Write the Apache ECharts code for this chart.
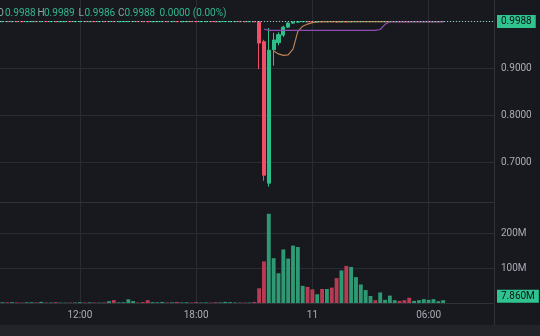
<!DOCTYPE html>
<html><head><meta charset="utf-8">
<script src="https://cdn.jsdelivr.net/npm/echarts@6/dist/echarts.min.js"></script>
<style>html,body{margin:0;padding:0;background:#18191f;}#c{width:540px;height:336px;}</style>
</head><body><div id="c"></div>
<script>
// 15-minute candles, [open, close, low, high]
const ohlc = [
[0.9987,0.9988,0.9985,0.9989],[0.9988,0.9987,0.9985,0.9989],[0.9987,0.9988,0.9986,0.9989],[0.9988,0.9987,0.9986,0.9989],[0.9987,0.9986,0.9985,0.9988],
[0.9986,0.9988,0.9985,0.9989],[0.9987,0.9988,0.9986,0.9990],[0.9988,0.9987,0.9986,0.9989],[0.9987,0.9989,0.9986,0.9990],[0.9989,0.9987,0.9986,0.9989],
[0.9987,0.9988,0.9986,0.9989],[0.9988,0.9986,0.9985,0.9989],[0.9986,0.9988,0.9985,0.9989],[0.9987,0.9988,0.9986,0.9989],[0.9988,0.9987,0.9986,0.9989],
[0.9987,0.9988,0.9986,0.9989],[0.9987,0.9989,0.9986,0.9990],[0.9989,0.9987,0.9986,0.9989],[0.9987,0.9988,0.9986,0.9989],[0.9988,0.9987,0.9986,0.9989],
[0.9987,0.9988,0.9986,0.9989],[0.9988,0.9987,0.9985,0.9989],[0.9987,0.9989,0.9985,0.9990],[0.9989,0.9986,0.9984,0.9990],[0.9986,0.9988,0.9985,0.9989],
[0.9987,0.9988,0.9986,0.9989],[0.9987,0.9990,0.9985,0.9991],[0.9988,0.9989,0.9986,0.9990],[0.9989,0.9988,0.9986,0.9990],[0.9988,0.9987,0.9985,0.9989],
[0.9987,0.9985,0.9983,0.9988],[0.9985,0.9987,0.9984,0.9988],[0.9986,0.9988,0.9985,0.9989],[0.9987,0.9988,0.9986,0.9990],[0.9988,0.9987,0.9986,0.9989],
[0.9987,0.9988,0.9986,0.9989],[0.9988,0.9986,0.9985,0.9989],[0.9986,0.9987,0.9985,0.9988],[0.9987,0.9988,0.9986,0.9989],[0.9988,0.9987,0.9986,0.9989],
[0.9987,0.9986,0.9985,0.9988],[0.9986,0.9988,0.9985,0.9989],[0.9987,0.9988,0.9986,0.9989],[0.9988,0.9987,0.9986,0.9989],[0.9987,0.9986,0.9985,0.9988],
[0.9986,0.9987,0.9985,0.9988],[0.9987,0.9988,0.9986,0.9990],[0.9987,0.9988,0.9986,0.9989],[0.9987,0.9988,0.9986,0.9989],[0.9988,0.9987,0.9986,0.9989],
[0.9987,0.9986,0.9985,0.9988],[0.9986,0.9988,0.9985,0.9989],[0.9988,0.9984,0.9979,0.9989],[0.9986,0.9530,0.8975,0.9990],[0.9560,0.6720,0.6600,0.9600],
[0.6550,0.9380,0.6475,0.9850],[0.9390,0.9596,0.9050,0.9750],[0.9540,0.9710,0.9480,0.9760],[0.9700,0.9870,0.9660,0.9900],[0.9870,0.9955,0.9850,0.9975],
[0.9955,0.9978,0.9940,0.9990],[0.9976,0.9985,0.9965,0.9992],[0.9984,0.9988,0.9978,0.9992],[0.9988,0.9984,0.9976,0.9991],[0.9985,0.9982,0.9974,0.9990],
[0.9982,0.9987,0.9978,0.9991],[0.9987,0.9983,0.9975,0.9990],[0.9983,0.9988,0.9979,0.9992],[0.9988,0.9984,0.9977,0.9991],[0.9985,0.9981,0.9972,0.9990],
[0.9981,0.9987,0.9976,0.9993],[0.9987,0.9982,0.9973,0.9991],[0.9982,0.9988,0.9977,0.9993],[0.9986,0.9989,0.9980,0.9993],[0.9986,0.9989,0.9981,0.9992],
[0.9987,0.9989,0.9982,0.9992],[0.9987,0.9989,0.9983,0.9991],[0.9989,0.9987,0.9983,0.9991],[0.9986,0.9989,0.9982,0.9992],[0.9987,0.9989,0.9984,0.9991],
[0.9987,0.9989,0.9983,0.9991],[0.9987,0.9988,0.9984,0.9990],[0.9988,0.9987,0.9984,0.9990],[0.9988,0.9986,0.9983,0.9990],[0.9987,0.9985,0.9982,0.9990],
[0.9986,0.9988,0.9984,0.9990],[0.9987,0.9988,0.9985,0.9990],[0.9986,0.9988,0.9984,0.9990],[0.9987,0.9988,0.9985,0.9990],[0.9987,0.9989,0.9985,0.9990],
[0.9987,0.9988,0.9985,0.9989],[0.9988,0.9988,0.9986,0.9989]
];
// volume in millions
const volumes = [
2.1,1.8,2.4,1.6,1.2,2.0,2.2,1.5,3.2,1.4,
1.3,2.3,1.1,1.0,1.2,1.5,2.4,1.3,1.8,1.4,
1.2,1.6,5.2,8.4,1.8,2.2,10.5,5.6,1.4,2.6,
8.1,2.4,2.0,3.1,1.5,1.9,3.0,1.6,2.1,1.2,
2.4,1.3,1.6,1.1,2.2,1.7,3.2,2.4,1.6,1.3,
1.2,1.4,3.0,42,119,255,128,85,153,127,
164,160,49,46,39,25,40,40,44,71,
93,106,103,74,53,37,20,8,30,9,
21,8,6,8,15,6,8,11,9,11,
5,7.86
];
const maOrange = [
null,null,null,null,null,null,null,null,null,null,
null,null,null,null,null,null,null,null,null,null,
null,null,null,null,null,null,null,null,null,null,
null,null,null,null,null,null,null,null,null,null,
null,null,null,null,null,null,null,null,null,null,
null,null,null,null,null,null,0.936,0.930,0.927,0.928,
0.940,0.978,0.989,0.9935,0.9965,0.998,0.9986,0.9986,0.9986,0.9986,
0.9986,0.9986,0.9986,0.9986,0.9986,0.9986,0.9986,0.9986,0.9986,0.9986,
0.9986,0.9986,0.9986,0.9986,0.9986,0.9986,0.9986,0.9986,0.9986,0.9986,
0.9986,0.9986
];
const maPurple = [
null,null,null,null,null,null,null,null,null,null,
null,null,null,null,null,null,null,null,null,null,
null,null,null,null,null,null,null,null,null,null,
null,null,null,null,null,null,null,null,null,null,
null,null,null,null,null,null,null,null,null,null,
null,null,null,null,0.983,0.980,0.980,0.980,0.980,0.980,
0.980,0.980,0.980,0.980,0.980,0.980,0.980,0.980,0.980,0.980,
0.980,0.980,0.980,0.980,0.980,0.980,0.980,0.980,0.982,0.993,
0.9984,0.9984,0.9984,0.9984,0.9984,0.9984,0.9984,0.9984,0.9984,0.9984,
0.9984,0.9984
];
const tickCats = ['10 12:00','10 18:00','11 00:00','11 06:00'];
const tickLabels = ['12:00','18:00','11','06:00'];
const legendLetters = ['O','H','L','C'];

// time categories: 15-minute steps from 10th 08:00
const categories = [];
for (let k = 0; k < 102; k++) {
  const m = 8 * 60 + 15 * k;
  const d = 10 + Math.floor(m / 1440);
  const mm = m % 1440;
  categories.push(d + ' ' + String(Math.floor(mm / 60)).padStart(2, '0') + ':' + String(mm % 60).padStart(2, '0'));
}

const UP = '#2cbf8a', DOWN = '#ef5068';
const VUP = '#2e9a73', VDOWN = '#b73b53';
const GRID = '#2a2c33', SEP = '#30323a', TXT = '#a9acb4';
const FONT = 'Roboto';

function isUp(i) {
  const r = ohlc[i];
  if (r[1] !== r[0]) return r[1] > r[0];
  return i === 0 || ohlc[i - 1][1] <= r[1];
}
const volData = volumes.map((v, i) => ({ value: v, itemStyle: { color: isUp(i) ? VUP : VDOWN } }));
const last = ohlc[ohlc.length - 1];
const lastVol = volumes[volumes.length - 1];
const prevClose = ohlc[ohlc.length - 2][1];
const legendValues = [last[0], last[3], last[2], last[1]];
const chg = last[1] - prevClose;
const chgText = chg.toFixed(4) + ' (' + (chg / prevClose * 100).toFixed(2) + '%)';
const legendCol = isUp(ohlc.length - 1) ? '#31b68e' : DOWN;

const tickFn = (idx, val) => tickCats.indexOf(val) >= 0;

const chart = echarts.init(document.getElementById('c'), null, { renderer: 'canvas' });

const letterX = [-3, 37.5, 78.5, 118];
const valueX = [5, 44, 84.5, 124.5];
const graphics = [
  { type: 'rect', shape: { x: 0, y: 325, width: 540, height: 11 }, style: { fill: '#232429' }, silent: true },
  { type: 'line', shape: { x1: 494.5, y1: 0, x2: 494.5, y2: 325 }, style: { stroke: SEP, lineWidth: 1 }, silent: true }
];
legendLetters.forEach((l, i) => {
  graphics.push({ type: 'text', x: letterX[i], y: 13, style: { text: l, fill: '#8fa7a0', font: '10px ' + FONT, verticalAlign: 'middle' }, z: 10 });
  graphics.push({ type: 'text', x: valueX[i], y: 13, style: { text: legendValues[i].toFixed(4), fill: legendCol, font: '10px ' + FONT, verticalAlign: 'middle' }, z: 10 });
});
graphics.push({ type: 'text', x: 159.5, y: 13, style: { text: chgText, fill: legendCol, font: '10px ' + FONT, verticalAlign: 'middle' }, z: 10 });

const option = {
  animation: false,
  backgroundColor: '#18191f',
  grid: [
    { left: 0, right: 46, top: 0, height: 202 },
    { left: 0, right: 46, top: 202, height: 101 }
  ],
  xAxis: [
    {
      type: 'category', gridIndex: 0, data: categories, boundaryGap: true,
      axisLine: { show: true, onZero: false, lineStyle: { color: SEP } },
      axisTick: { show: false }, axisLabel: { show: false },
      splitLine: { show: true, interval: tickFn, alignWithLabel: true, lineStyle: { color: GRID } }
    },
    {
      type: 'category', gridIndex: 1, data: categories, boundaryGap: true,
      axisLine: { show: true, onZero: false, lineStyle: { color: SEP } },
      axisTick: { show: false },
      axisLabel: {
        show: true, interval: tickFn, color: TXT, fontSize: 10, fontFamily: FONT, margin: 7,
        formatter: v => { const k = tickCats.indexOf(v); return k >= 0 ? tickLabels[k] : ''; }
      },
      splitLine: { show: true, interval: tickFn, alignWithLabel: true, lineStyle: { color: GRID } }
    }
  ],
  yAxis: [
    {
      type: 'value', gridIndex: 0, position: 'right', min: 0.6149, max: 1.0447,
      splitNumber: 4, minInterval: 0.1, maxInterval: 0.1, scale: true,
      axisLine: { show: false }, axisTick: { show: false },
      axisLabel: {
        color: TXT, fontSize: 10, fontFamily: FONT, margin: 7, showMinLabel: false, showMaxLabel: false,
        formatter: v => (Math.abs(v - 1) < 1e-6 ? '' : v.toFixed(4))
      },
      splitLine: { show: true, showMinLine: false, showMaxLine: false, lineStyle: { color: GRID } }
    },
    {
      type: 'value', gridIndex: 1, position: 'right', min: 0, max: 288.6,
      minInterval: 100, maxInterval: 100,
      axisLine: { show: false }, axisTick: { show: false },
      axisLabel: {
        color: TXT, fontSize: 10, fontFamily: FONT, margin: 7, showMinLabel: false, showMaxLabel: false,
        formatter: v => v + 'M'
      },
      splitLine: { show: true, showMinLine: false, showMaxLine: false, lineStyle: { color: GRID } }
    }
  ],
  series: [
    {
      type: 'candlestick', xAxisIndex: 0, yAxisIndex: 0, data: ohlc, barWidth: 3.6,
      itemStyle: { color: UP, color0: DOWN, borderColor: UP, borderColor0: DOWN, borderWidth: 1 },
      markLine: {
        silent: true, symbol: ['none', 'none'], precision: 4, animation: false,
        data: [{ yAxis: last[1] }],
        lineStyle: { type: [1, 2], color: '#8fcfbb', width: 1 },
        label: {
          show: true, position: 'end', distance: 3, formatter: () => last[1].toFixed(4),
          backgroundColor: '#2ec38f', color: '#0f1115', fontSize: 10, fontFamily: FONT,
          padding: [2, 4, 1, 4]
        }
      }
    },
    {
      type: 'line', xAxisIndex: 0, yAxisIndex: 0, data: maOrange, showSymbol: false,
      lineStyle: { color: '#b98252', width: 1.2 }, z: 3
    },
    {
      type: 'line', xAxisIndex: 0, yAxisIndex: 0, data: maPurple, showSymbol: false,
      lineStyle: { color: '#8f4db4', width: 1.2 }, z: 3
    },
    {
      type: 'bar', xAxisIndex: 1, yAxisIndex: 1, data: volData, barWidth: '80%',
      markLine: {
        silent: true, symbol: ['none', 'none'], precision: 3, animation: false,
        data: [{ yAxis: lastVol }],
        lineStyle: { color: 'rgba(0,0,0,0)', width: 1, type: 'solid' },
        label: {
          show: true, position: 'end', distance: 3, formatter: () => lastVol.toFixed(3) + 'M',
          backgroundColor: '#2ec38f', color: '#0f1115', fontSize: 10, fontFamily: FONT,
          padding: [2, 4, 1, 4], offset: [0, -4], opacity: 1
        }
      }
    }
  ],
  graphic: graphics
};
chart.setOption(option);
</script>
</body></html>
